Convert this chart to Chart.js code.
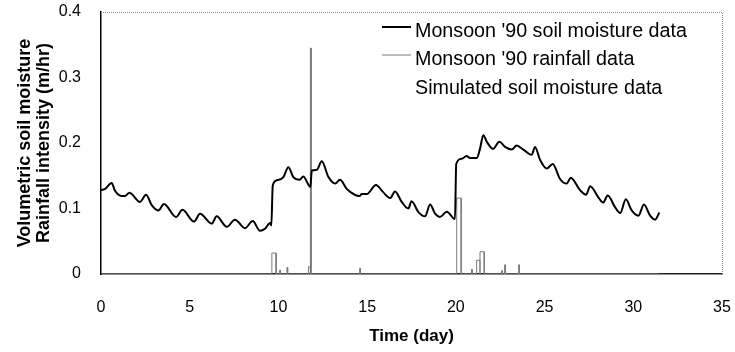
<!DOCTYPE html>
<html>
<head>
<meta charset="utf-8">
<script src="https://cdn.jsdelivr.net/npm/chart.js@4"></script>
<style>
  html, body { margin: 0; padding: 0; background: #fff; }
  #wrap { width: 735px; height: 352px; }
</style>
</head>
<body>
<div id="wrap"><canvas id="grafico" width="735" height="352"></canvas></div>
<script>
// --- soil moisture record (day, volumetric fraction) ---
const moistDay = [0, 0.23, 0.6, 0.79, 1.17, 1.35, 1.6, 2.2, 2.54, 2.86, 3.23, 3.55, 4.23, 4.59,
  5.24, 5.58, 6.24, 6.52, 7.09, 7.55, 8.12, 8.55, 8.96, 9.24, 9.53, 9.6, 9.68, 9.9, 10.28,
  10.56, 10.84, 11.2, 11.4, 11.8, 11.88, 12.16, 12.44, 12.82, 13.2, 13.47, 13.85, 14.3,
  14.56, 14.7, 14.98, 15.5, 15.9, 16.3, 16.57, 16.95, 17.32, 17.5, 17.9, 18.26, 18.55,
  18.83, 19.1, 19.49, 19.95, 20.02, 20.33, 20.6, 20.8, 21.18, 21.36, 21.55, 21.74, 22.1,
  22.45, 22.77, 23.15, 23.42, 23.8, 24.28, 24.46, 24.75, 25.12, 25.46, 25.87, 26.25,
  26.47, 27.0, 27.34, 27.57, 28.03, 28.3, 28.56, 28.97, 29.26, 29.58, 29.91, 30.29, 30.6,
  30.95, 31.23, 31.47];
const moistVal = [0.128, 0.130, 0.139, 0.127, 0.119, 0.119, 0.124, 0.110, 0.121, 0.105, 0.097,
  0.107, 0.087, 0.098, 0.080, 0.092, 0.077, 0.088, 0.072, 0.083, 0.070, 0.081, 0.066, 0.069,
  0.078, 0.074, 0.135, 0.143, 0.148, 0.163, 0.148, 0.144, 0.149, 0.133, 0.158, 0.159, 0.172,
  0.148, 0.138, 0.144, 0.130, 0.121, 0.119, 0.122, 0.122, 0.136, 0.125, 0.116, 0.126, 0.110,
  0.100, 0.111, 0.094, 0.088, 0.106, 0.092, 0.087, 0.095, 0.084, 0.168, 0.176, 0.180, 0.177,
  0.177, 0.191, 0.212, 0.202, 0.191, 0.202, 0.194, 0.190, 0.196, 0.190, 0.182, 0.194, 0.174,
  0.161, 0.168, 0.145, 0.138, 0.147, 0.128, 0.121, 0.134, 0.117, 0.109, 0.120, 0.102, 0.093,
  0.114, 0.097, 0.089, 0.106, 0.089, 0.083, 0.094];

// --- rainfall pulses: start day, end day, intensity (m/hr) ---
const rainStart = [9.63, 10.07, 10.48, 11.69, 11.80, 14.58, 20.05, 20.88, 21.17, 21.36, 22.58, 22.75, 23.54];
const rainEnd   = [9.87, 10.11, 10.52, 11.80, 11.84, 14.62, 20.30, 20.92, 21.36, 21.60, 22.62, 22.79, 23.58];
const rainVal   = [0.032, 0.006, 0.010, 0.011, 0.345, 0.009, 0.116, 0.007, 0.021, 0.034, 0.005, 0.014, 0.014];
const rainLastDay = 31.47;

const xTicks = [0, 5, 10, 15, 20, 25, 30, 35];
const yTicks = [0, 0.1, 0.2, 0.3, 0.4];

const serie = ["Monsoon '90 soil moisture data", "Monsoon '90 rainfall data", 'Simulated soil moisture data'];

const fonte = '"Liberation Sans", Arial, Helvetica, sans-serif';

// moisture points
const pontosUmidade = moistDay.map((d, i) => ({ x: d, y: moistVal[i] }));

// rainfall as an outlined hyetograph (each pulse is a closed rectangle on the baseline)
const pontosChuva = [{ x: 0, y: 0 }];
rainStart.forEach((s, i) => {
  pontosChuva.push({ x: s, y: 0 }, { x: s, y: rainVal[i] }, { x: rainEnd[i], y: rainVal[i] }, { x: rainEnd[i], y: 0 });
});
pontosChuva.push({ x: rainLastDay, y: 0 });

// keep the plot box where the layout padding puts it (no extra room for edge labels)
function semPaddingExtra(s) {
  s.paddingTop = 0;
  s.paddingBottom = 0;
  s.paddingLeft = 0;
  s.paddingRight = 0;
}

// top/right frame (dotted) and the in-plot legend
const molduraLegenda = {
  id: 'molduraLegenda',
  afterDatasetsDraw(chart) {
    const { ctx, chartArea: a } = chart;
    ctx.save();
    ctx.strokeStyle = '#8a8a8a';
    ctx.lineWidth = 1;
    ctx.setLineDash([1, 1]);
    ctx.beginPath();
    ctx.moveTo(a.left, a.top + 0.5);
    ctx.lineTo(a.right + 0.5, a.top + 0.5);
    ctx.lineTo(a.right + 0.5, a.bottom);
    ctx.stroke();
    ctx.setLineDash([]);

    const xs = 382, xe = 411, xt = 415;
    const base = [37, 65, 94];
    ctx.font = '19.7px ' + fonte;
    ctx.textBaseline = 'alphabetic';
    ctx.textAlign = 'left';
    chart.data.datasets.forEach((ds, i) => {
      const ym = base[i] - 10;
      ctx.strokeStyle = ds.borderColor;
      ctx.lineWidth = ds.borderWidth;
      ctx.beginPath();
      ctx.moveTo(xs, ym);
      ctx.lineTo(xe, ym);
      ctx.stroke();
      ctx.fillStyle = '#000';
      ctx.fillText(ds.label, xt, base[i]);
    });
    ctx.restore();
  }
};

const ctx = document.getElementById('grafico').getContext('2d');
new Chart(ctx, {
  type: 'line',
  data: {
    datasets: [
      {
        label: serie[0],
        data: pontosUmidade,
        borderColor: '#000',
        borderWidth: 2,
        pointRadius: 0,
        cubicInterpolationMode: 'monotone',
        order: 1
      },
      {
        label: serie[1],
        data: pontosChuva,
        borderColor: '#7a7a7a',
        borderWidth: 1,
        pointRadius: 0,
        tension: 0,
        order: 2
      },
      {
        label: serie[2],
        data: [],
        borderColor: '#ffffff',
        borderWidth: 1,
        pointRadius: 0
      }
    ]
  },
  options: {
    responsive: false,
    animation: false,
    layout: { padding: { top: 12, right: 13, left: 0, bottom: 0 } },
    plugins: {
      legend: { display: false },
      tooltip: { enabled: false }
    },
    scales: {
      x: {
        type: 'linear',
        min: 0,
        max: 35,
        afterFit: (s) => { s.height = 78; semPaddingExtra(s); },
        afterBuildTicks: (s) => { s.ticks = xTicks.map(v => ({ value: v })); },
        grid: { display: false },
        border: { display: true, color: '#222', width: 1.5 },
        ticks: { color: '#000', padding: 16, font: { family: fonte, size: 16 } },
        title: {
          display: true,
          text: 'Time (day)',
          color: '#000',
          font: { family: fonte, size: 17, weight: 'bold', lineHeight: 1.2 },
          padding: { top: 0, bottom: 5 }
        }
      },
      y: {
        min: 0,
        max: 0.4,
        afterFit: (s) => { s.width = 101; semPaddingExtra(s); },
        afterBuildTicks: (s) => { s.ticks = yTicks.map(v => ({ value: v })); },
        grid: { display: false },
        border: { display: true, color: '#000', width: 1.5 },
        ticks: { color: '#000', padding: 12, font: { family: fonte, size: 16 } },
        title: {
          display: true,
          text: ['Volumetric soil moisture', 'Rainfall intensity (m/hr)'],
          color: '#000',
          font: { family: fonte, size: 18, weight: 'bold', lineHeight: 1.06 },
          padding: { top: 15.5, bottom: 0 }
        }
      }
    }
  },
  plugins: [molduraLegenda]
});
</script>
</body>
</html>
